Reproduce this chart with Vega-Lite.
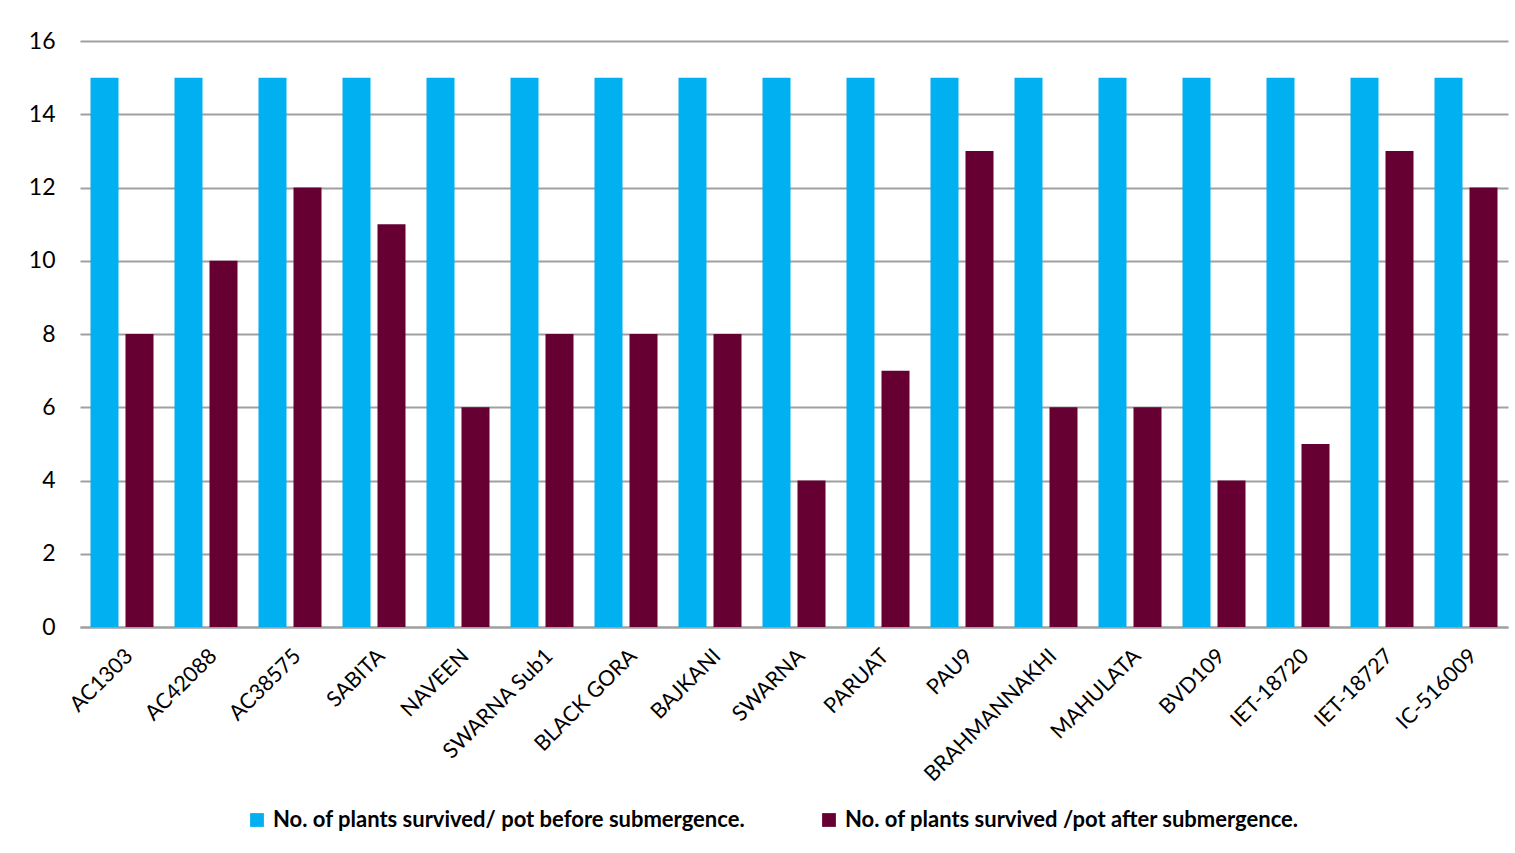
{
  "$schema": "https://vega.github.io/schema/vega-lite/v6.json",
  "autosize": {"type": "none"},
  "padding": {"left": 80, "top": 41, "right": 7, "bottom": 226},
  "width": 1428,
  "height": 586,
  "background": "white",
  "data": {"values": [
    {"variety": "AC1303", "series": "No. of plants survived/ pot before submergence.", "value": 15},
    {"variety": "AC1303", "series": "No. of plants survived /pot after submergence.", "value": 8},
    {"variety": "AC42088", "series": "No. of plants survived/ pot before submergence.", "value": 15},
    {"variety": "AC42088", "series": "No. of plants survived /pot after submergence.", "value": 10},
    {"variety": "AC38575", "series": "No. of plants survived/ pot before submergence.", "value": 15},
    {"variety": "AC38575", "series": "No. of plants survived /pot after submergence.", "value": 12},
    {"variety": "SABITA", "series": "No. of plants survived/ pot before submergence.", "value": 15},
    {"variety": "SABITA", "series": "No. of plants survived /pot after submergence.", "value": 11},
    {"variety": "NAVEEN", "series": "No. of plants survived/ pot before submergence.", "value": 15},
    {"variety": "NAVEEN", "series": "No. of plants survived /pot after submergence.", "value": 6},
    {"variety": "SWARNA Sub1", "series": "No. of plants survived/ pot before submergence.", "value": 15},
    {"variety": "SWARNA Sub1", "series": "No. of plants survived /pot after submergence.", "value": 8},
    {"variety": "BLACK GORA", "series": "No. of plants survived/ pot before submergence.", "value": 15},
    {"variety": "BLACK GORA", "series": "No. of plants survived /pot after submergence.", "value": 8},
    {"variety": "BAJKANI", "series": "No. of plants survived/ pot before submergence.", "value": 15},
    {"variety": "BAJKANI", "series": "No. of plants survived /pot after submergence.", "value": 8},
    {"variety": "SWARNA", "series": "No. of plants survived/ pot before submergence.", "value": 15},
    {"variety": "SWARNA", "series": "No. of plants survived /pot after submergence.", "value": 4},
    {"variety": "PARUAT", "series": "No. of plants survived/ pot before submergence.", "value": 15},
    {"variety": "PARUAT", "series": "No. of plants survived /pot after submergence.", "value": 7},
    {"variety": "PAU9", "series": "No. of plants survived/ pot before submergence.", "value": 15},
    {"variety": "PAU9", "series": "No. of plants survived /pot after submergence.", "value": 13},
    {"variety": "BRAHMANNAKHI", "series": "No. of plants survived/ pot before submergence.", "value": 15},
    {"variety": "BRAHMANNAKHI", "series": "No. of plants survived /pot after submergence.", "value": 6},
    {"variety": "MAHULATA", "series": "No. of plants survived/ pot before submergence.", "value": 15},
    {"variety": "MAHULATA", "series": "No. of plants survived /pot after submergence.", "value": 6},
    {"variety": "BVD109", "series": "No. of plants survived/ pot before submergence.", "value": 15},
    {"variety": "BVD109", "series": "No. of plants survived /pot after submergence.", "value": 4},
    {"variety": "IET-18720", "series": "No. of plants survived/ pot before submergence.", "value": 15},
    {"variety": "IET-18720", "series": "No. of plants survived /pot after submergence.", "value": 5},
    {"variety": "IET-18727", "series": "No. of plants survived/ pot before submergence.", "value": 15},
    {"variety": "IET-18727", "series": "No. of plants survived /pot after submergence.", "value": 13},
    {"variety": "IC-516009", "series": "No. of plants survived/ pot before submergence.", "value": 15},
    {"variety": "IC-516009", "series": "No. of plants survived /pot after submergence.", "value": 12}
  ]},
  "mark": {"type": "bar"},
  "encoding": {
    "x": {
      "field": "variety", "type": "nominal", "sort": null,
      "scale": {"paddingInner": 0.25, "paddingOuter": 0.125},
      "axis": {"title": null, "labelAngle": -45, "labelFont": "Lato", "labelFontSize": 21.5, "labelColor": "#000000",
               "ticks": false, "domainColor": "#a0a0a0", "domainWidth": 2, "labelPadding": 18, "labelOverlap": false}
    },
    "xOffset": {
      "field": "series", "type": "nominal", "sort": null,
      "scale": {"paddingInner": 0.2, "paddingOuter": 0}
    },
    "y": {
      "field": "value", "type": "quantitative",
      "scale": {"domain": [0, 16]},
      "axis": {"title": null, "values": [0,2,4,6,8,10,12,14,16], "labelFont": "Lato", "labelFontSize": 23, "labelColor": "#000000",
               "ticks": false, "domain": false, "gridColor": "#a0a0a0", "gridWidth": 2, "labelPadding": 25, "labelOverlap": false}
    },
    "color": {
      "field": "series", "type": "nominal", "sort": null,
      "scale": {"range": ["#00B0F0", "#660033"]},
      "legend": {"title": null, "orient": "none", "legendX": 166, "legendY": 768, "direction": "horizontal", "symbolType": "square", "symbolSize": 190,
                 "symbolStrokeWidth": 0, "labelFont": "Lato", "labelFontSize": 22, "labelFontWeight": "bold", "labelColor": "#000000",
                 "columnPadding": 72, "labelLimit": 700, "labelOffset": 5}
    }
  },
  "config": {"view": {"stroke": null}}
}
